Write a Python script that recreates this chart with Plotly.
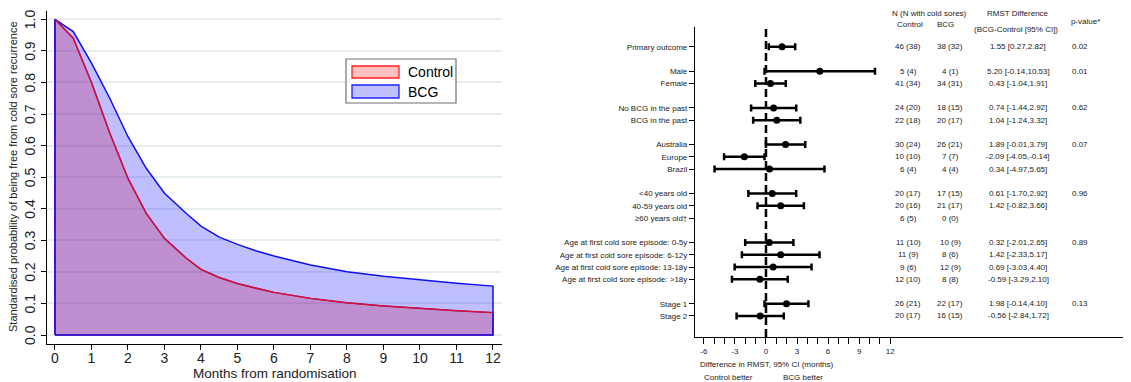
import plotly.graph_objects as go

# ---------------- Left panel data ----------------
months = [0, 0.5, 1, 1.5, 2, 2.5, 3, 3.6, 4, 4.5, 5, 5.5, 6, 7, 8, 9, 10, 11, 12]
surv_control = [1.0, 0.94, 0.80, 0.64, 0.496, 0.385, 0.306, 0.243, 0.208, 0.182, 0.163, 0.148,
                0.135, 0.116, 0.102, 0.092, 0.084, 0.077, 0.071]
surv_bcg = [1.0, 0.961, 0.861, 0.75, 0.628, 0.528, 0.449, 0.385, 0.345, 0.31, 0.287, 0.267,
            0.25, 0.222, 0.20, 0.186, 0.174, 0.164, 0.155]
y_ticks = [0.0, 0.1, 0.2, 0.3, 0.4, 0.5, 0.6, 0.7, 0.8, 0.9, 1.0]
x_ticks = list(range(0, 13))
legend_names = ["Control", "BCG"]

# ---------------- Right panel (forest) data ----------------
labels = ["Primary outcome", "Male", "Female", "No BCG in the past", "BCG in the past",
          "Australia", "Europe", "Brazil", "<40 years old", "40-59 years old",
          "≥60 years old†", "Age at first cold sore episode: 0-5y",
          "Age at first cold sore episode: 6-12y", "Age at first cold sore episode: 13-18y",
          "Age at first cold sore episode: >18y", "Stage 1", "Stage 2"]
rows = [1, 3, 4, 6, 7, 9, 10, 11, 13, 14, 15, 17, 18, 19, 20, 22, 23]
est = [1.55, 5.20, 0.43, 0.74, 1.04, 1.89, -2.09, 0.34, 0.61, 1.42, None, 0.32, 1.42, 0.69, -0.59, 1.98, -0.56]
lo = [0.27, -0.14, -1.04, -1.44, -1.24, -0.01, -4.05, -4.97, -1.70, -0.82, None, -2.01, -2.33, -3.03, -3.29, -0.14, -2.84]
hi = [2.82, 10.53, 1.91, 2.92, 3.32, 3.79, -0.14, 5.65, 2.92, 3.66, None, 2.65, 5.17, 4.40, 2.10, 4.10, 1.72]
n_control = ["46 (38)", "5 (4)", "41 (34)", "24 (20)", "22 (18)", "30 (24)", "10 (10)", "6 (4)",
             "20 (17)", "20 (16)", "6 (5)", "11 (10)", "11 (9)", "9 (6)", "12 (10)", "26 (21)", "20 (17)"]
n_bcg = ["38 (32)", "4 (1)", "34 (31)", "18 (15)", "20 (17)", "26 (21)", "7 (7)", "4 (4)",
         "17 (15)", "21 (17)", "0 (0)", "10 (9)", "8 (6)", "12 (9)", "8 (8)", "22 (17)", "16 (15)"]
p_values = ["0.02", "0.01", "", "0.62", "", "0.07", "", "", "0.96", "", "", "0.89", "", "", "", "0.13", ""]
forest_ticks = list(range(-6, 13))

# page body has an 8px margin; figure sized to fit the window
OFF = 8
W, H = 1131 - OFF, 382 - OFF
FONT = "Liberation Sans, Arial, sans-serif"
TXT = "#222222"
RED_LINE, RED_FILL = "#e0102c", "rgba(255,0,0,0.25)"
BLUE_LINE, BLUE_FILL = "#1010ee", "rgba(0,0,255,0.25)"


def px(x):
    return (x - OFF) / W


def py(y):
    return (H - (y - OFF)) / H


fig = go.Figure()

# Survival polygons (closed to zero)
fig.add_trace(go.Scatter(
    x=[months[0]] + months + [months[-1], months[0]],
    y=[0] + surv_control + [0, 0],
    mode="lines", fill="toself", fillcolor=RED_FILL,
    line=dict(color=RED_LINE, width=1.5), name=legend_names[0], showlegend=False,
    xaxis="x", yaxis="y", hoverinfo="skip"))
fig.add_trace(go.Scatter(
    x=[months[0]] + months + [months[-1], months[0]],
    y=[0] + surv_bcg + [0, 0],
    mode="lines", fill="toself", fillcolor=BLUE_FILL,
    line=dict(color=BLUE_LINE, width=1.5), name=legend_names[1], showlegend=False,
    xaxis="x", yaxis="y", hoverinfo="skip"))
fig.add_trace(go.Scatter(
    x=months, y=surv_control, mode="lines", showlegend=False,
    line=dict(color="#d0123a", width=1.3), xaxis="x", yaxis="y", hoverinfo="skip"))

# Forest plot
pr = [r for r, e in zip(rows, est) if e is not None]
pe = [e for e in est if e is not None]
pp = [h - e for e, h in zip(est, hi) if e is not None]
pm = [e - l for e, l in zip(est, lo) if e is not None]
fig.add_trace(go.Scatter(
    x=pe, y=pr, mode="markers", showlegend=False,
    marker=dict(color="black", size=7),
    error_x=dict(type="data", symmetric=False, array=pp, arrayminus=pm,
                 color="black", thickness=2.5, width=3.5),
    xaxis="x2", yaxis="y2"))

fig.update_layout(
    width=W, height=H, margin=dict(l=0, r=0, t=0, b=0),
    paper_bgcolor="white", plot_bgcolor="white",
    font=dict(family=FONT, color=TXT, size=13),
    showlegend=False,
    xaxis=dict(domain=[px(47), px(502)], range=[-0.219, 12.247],
               tickvals=x_ticks, ticks="outside", ticklen=5, tickcolor="black",
               showline=True, linecolor="black", linewidth=1, showgrid=False,
               zeroline=False, tickfont=dict(size=14, color=TXT),
               ticklabelstandoff=-4),
    yaxis=dict(domain=[py(344), py(11)], range=[-0.0285, 1.0263],
               tickvals=y_ticks, ticks="outside", ticklen=5,
               tickcolor="black", showticklabels=False,
               showline=True, linecolor="black", linewidth=1,
               showgrid=True, gridcolor="#e6eef2", gridwidth=1.5,
               zeroline=False),
    xaxis2=dict(domain=[px(695), 1.0], range=[-6.86, 35.27], anchor="y2",
                tickvals=forest_ticks,
                ticktext=[str(t) if t % 3 == 0 else "" for t in forest_ticks],
                ticks="outside", ticklen=6, tickwidth=1.2, tickcolor="black",
                showline=True, linecolor="black", linewidth=1.2, showgrid=False,
                zeroline=False, tickfont=dict(size=8, color=TXT)),
    yaxis2=dict(domain=[py(337), py(27)], range=[24.72, -0.61], anchor="x2",
                tickvals=rows, ticktext=labels, ticks="outside", ticklen=5,
                tickwidth=1.2, tickcolor="black",
                showline=True, linecolor="black", linewidth=1.2, showgrid=False,
                zeroline=False, tickfont=dict(size=8, color=TXT)),
)

shapes = []
# dashed null line
shapes.append(dict(type="line", xref="x2", yref="y2 domain", x0=0, x1=0, y0=0, y1=1,
                   line=dict(color="black", width=2.5, dash="8px,4px")))
# manual legend box + swatches
shapes.append(dict(type="rect", xref="paper", yref="paper",
                   x0=px(346), x1=px(456), y0=py(103), y1=py(59),
                   line=dict(color="#707070", width=1.2), fillcolor="white", layer="above"))
shapes.append(dict(type="rect", xref="paper", yref="paper",
                   x0=px(352), x1=px(399), y0=py(78), y1=py(66),
                   line=dict(color="#ff2020", width=1.3), fillcolor="#ffc0c0", layer="above"))
shapes.append(dict(type="rect", xref="paper", yref="paper",
                   x0=px(352), x1=px(399), y0=py(98), y1=py(85),
                   line=dict(color="#2020ff", width=1.3), fillcolor="#c0c0ff", layer="above"))
fig.update_layout(shapes=shapes)


def note(text, x, y, size=8, yref="paper", **kw):
    d = dict(text=text, x=x, y=y, xref="paper", yref=yref, showarrow=False,
             xanchor="center", yanchor="middle", font=dict(size=size, color=TXT))
    d.update(kw)
    return d


ann = []
# legend labels
ann.append(note(legend_names[0], px(406), py(72), size=14, xanchor="left",
                font=dict(size=14, color="black")))
ann.append(note(legend_names[1], px(406), py(91.5), size=14, xanchor="left",
                font=dict(size=14, color="black")))
# rotated y tick labels
for v in y_ticks:
    ann.append(note(f"{v:.1f}", px(30), v, size=14, yref="y", textangle=-90))
# left panel titles
ann.append(note("Standardised probability of being free from cold sore recurrence",
                px(13), py(177), size=11, textangle=-90))
ann.append(note("Months from randomisation", px(275), py(373), size=13.5))

# table headers
hdr = [("N (N with cold sores)", 929, 14), ("Control", 910, 25), ("BCG", 945, 25),
       ("RMST Difference", 1018, 14), ("(BCG-Control [95% CI])", 1016, 29),
       ("p-value*", 1085, 21)]
for t, x, y in hdr:
    ann.append(note(t, px(x), py(y)))

# table rows
for i, r in enumerate(rows):
    ann.append(note(n_control[i], px(908), r, yref="y2"))
    ann.append(note(n_bcg[i], px(950), r, yref="y2"))
    if est[i] is not None:
        ann.append(note(f"{est[i]:.2f} [{lo[i]:.2f},{hi[i]:.2f}]", px(1018), r, yref="y2"))
    if p_values[i]:
        ann.append(note(p_values[i], px(1080), r, yref="y2"))

# forest axis titles
ann.append(note("Difference in RMST, 95% CI (months)", px(767), py(364)))
ann.append(note("Control better", px(728), py(377)))
ann.append(note("BCG better", px(803), py(377)))

fig.update_layout(annotations=ann)
fig.write_html("out.html")
